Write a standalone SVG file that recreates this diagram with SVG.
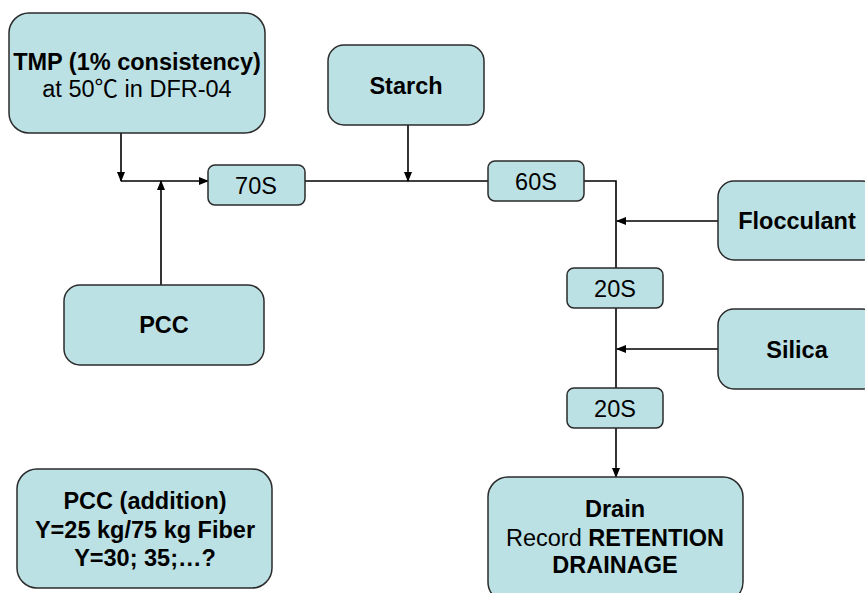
<svg xmlns="http://www.w3.org/2000/svg" width="865" height="593" viewBox="0 0 865 593">
<style>
.box{fill:#BCE1E4;stroke:#2b2b2b;stroke-width:1.5}
.t{font-family:"Liberation Sans","Noto Sans CJK SC",Arial,sans-serif;font-size:23.5px;fill:#000;text-anchor:middle}
.b{font-weight:bold}
.ln{stroke:#000;stroke-width:1.6;fill:none}
</style>
<defs>
<marker id="ah" markerWidth="10" markerHeight="8" refX="9" refY="4" orient="auto" markerUnits="userSpaceOnUse">
<path d="M0,0 L10,4 L0,8 Z" fill="#000"/>
</marker>
</defs>
<rect width="865" height="593" fill="#fff"/>
<g id="connectors">
<path class="ln" d="M121,133 V181" marker-end="url(#ah)"/>
<path class="ln" d="M121,181 H208" marker-end="url(#ah)"/>
<path class="ln" d="M161,285 V181" marker-end="url(#ah)"/>
<path class="ln" d="M305,181 H488"/>
<path class="ln" d="M408,125 V181" marker-end="url(#ah)"/>
<path class="ln" d="M584,181 H616 V268"/>
<path class="ln" d="M718,221 H617" marker-end="url(#ah)"/>
<path class="ln" d="M616,308 V388"/>
<path class="ln" d="M718,349 H617" marker-end="url(#ah)"/>
<path class="ln" d="M616,428 V477" marker-end="url(#ah)"/>
</g>
<g id="tmp">
<rect class="box" x="9" y="13" width="256" height="120" rx="20"/>
<text class="t b" x="137" y="70">TMP (1% consistency)</text>
<text class="t" x="137" y="97">at 50℃ in DFR-04</text>
</g>
<g id="starch">
<rect class="box" x="328" y="45" width="156" height="80" rx="16"/>
<text class="t b" x="406" y="94">Starch</text>
</g>
<g id="t70">
<rect class="box" x="208" y="165" width="97" height="40" rx="7"/>
<text class="t" x="256" y="194">70S</text>
</g>
<g id="t60">
<rect class="box" x="488" y="161" width="96" height="40" rx="7"/>
<text class="t" x="536" y="190">60S</text>
</g>
<g id="flocculant">
<rect class="box" x="718" y="181" width="160" height="79" rx="16"/>
<text class="t b" x="797" y="229">Flocculant</text>
</g>
<g id="t20a">
<rect class="box" x="567" y="268" width="96" height="40" rx="7"/>
<text class="t" x="615" y="297">20S</text>
</g>
<g id="silica">
<rect class="box" x="718" y="309" width="160" height="80" rx="16"/>
<text class="t b" x="797" y="358">Silica</text>
</g>
<g id="t20b">
<rect class="box" x="567" y="388" width="96" height="40" rx="7"/>
<text class="t" x="615" y="417">20S</text>
</g>
<g id="pcc">
<rect class="box" x="64" y="285" width="200" height="80" rx="16"/>
<text class="t b" x="164" y="333">PCC</text>
</g>
<g id="pccadd">
<rect class="box" x="17" y="469" width="255" height="119" rx="20"/>
<text class="t b" x="145" y="509">PCC (addition)</text>
<text class="t b" x="145" y="538">Y=25 kg/75 kg Fiber</text>
<text class="t b" x="145" y="566">Y=30; 35;…?</text>
</g>
<g id="drain">
<rect class="box" x="488" y="477" width="255" height="125" rx="20"/>
<text class="t b" x="615" y="517">Drain</text>
<text class="t" x="615" y="546">Record <tspan class="b">RETENTION</tspan></text>
<text class="t b" x="615" y="573">DRAINAGE</text>
</g>
</svg>
